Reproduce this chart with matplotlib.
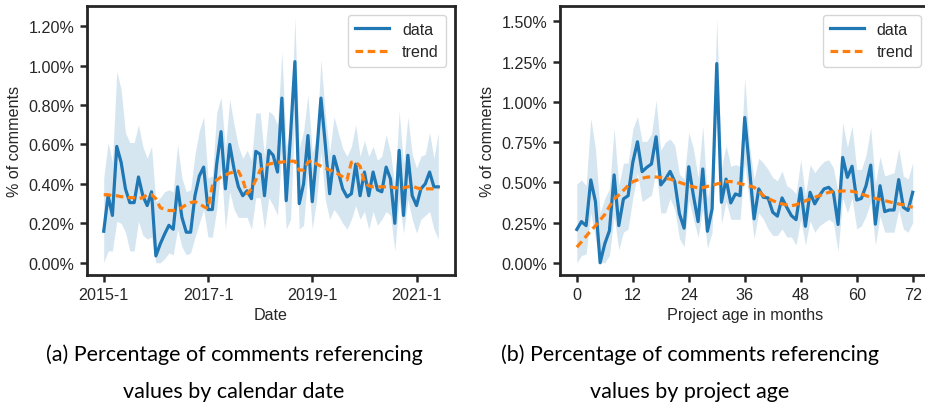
import numpy as np
import matplotlib
matplotlib.use("Agg")
import matplotlib.pyplot as plt
from matplotlib.ticker import PercentFormatter

# (a) monthly share of comments referencing values, 2015-1 .. 2021-6
date_data = [0.16, 0.34, 0.24, 0.59, 0.51, 0.375, 0.305, 0.305, 0.435, 0.34,
             0.29, 0.36, 0.035, 0.095, 0.145, 0.19, 0.17, 0.385, 0.23, 0.155,
             0.155, 0.34, 0.44, 0.485, 0.27, 0.27, 0.5, 0.665, 0.375, 0.6,
             0.475, 0.385, 0.34, 0.365, 0.325, 0.565, 0.55, 0.34, 0.57, 0.545,
             0.46, 0.835, 0.315, 0.65, 1.02, 0.3, 0.4, 0.645, 0.31, 0.55,
             0.835, 0.6, 0.35, 0.54, 0.46, 0.375, 0.334, 0.35, 0.5, 0.34,
             0.46, 0.34, 0.46, 0.37, 0.36, 0.485, 0.425, 0.2, 0.57, 0.24,
             0.545, 0.34, 0.29, 0.375, 0.4, 0.46, 0.385, 0.385]
date_trend = [0.345, 0.345, 0.34, 0.34, 0.335, 0.335, 0.33, 0.33, 0.325, 0.33,
              0.345, 0.345, 0.325, 0.28, 0.27, 0.265, 0.265, 0.27, 0.28, 0.295,
              0.305, 0.31, 0.3, 0.285, 0.275, 0.39, 0.42, 0.435, 0.445, 0.455,
              0.46, 0.465, 0.42, 0.35, 0.375, 0.42, 0.47, 0.49, 0.5, 0.505,
              0.51, 0.51, 0.515, 0.515, 0.515, 0.47, 0.47, 0.51, 0.52, 0.5,
              0.49, 0.48, 0.47, 0.46, 0.45, 0.435, 0.42, 0.51, 0.51, 0.49,
              0.41, 0.39, 0.385, 0.385, 0.385, 0.385, 0.385, 0.38, 0.38, 0.38,
              0.385, 0.39, 0.38, 0.375, 0.375, 0.375, 0.375, 0.375]
date_low = [0.0, 0.06, 0.06, 0.21, 0.2, 0.155, 0.06, 0.06, 0.21, 0.14,
            0.12, 0.13, 0.0, 0.0, 0.02, 0.05, 0.04, 0.17, 0.08, 0.04,
            0.05, 0.13, 0.2, 0.27, 0.13, 0.13, 0.27, 0.49, 0.17, 0.36,
            0.27, 0.23, 0.23, 0.23, 0.17, 0.33, 0.33, 0.17, 0.33, 0.29,
            0.24, 0.57, 0.17, 0.22, 0.77, 0.17, 0.19, 0.46, 0.17, 0.32,
            0.56, 0.32, 0.22, 0.27, 0.24, 0.2, 0.17, 0.22, 0.29, 0.22,
            0.26, 0.17, 0.26, 0.19, 0.22, 0.26, 0.24, 0.06, 0.32, 0.15,
            0.32, 0.22, 0.15, 0.22, 0.24, 0.26, 0.17, 0.12]
date_high = [0.43, 0.61, 0.51, 0.97, 0.88, 0.66, 0.61, 0.61, 0.7, 0.59,
             0.53, 0.59, 0.31, 0.33, 0.36, 0.37, 0.36, 0.6, 0.43, 0.36,
             0.37, 0.55, 0.67, 0.74, 0.43, 0.44, 0.76, 0.84, 0.58, 0.83,
             0.7, 0.59, 0.53, 0.57, 0.52, 0.76, 0.76, 0.54, 0.77, 0.75,
             0.7, 1.07, 0.59, 0.66, 1.24, 0.58, 0.67, 0.85, 0.56, 0.63,
             1.03, 0.75, 0.56, 0.74, 0.66, 0.58, 0.54, 0.59, 0.7, 0.54,
             0.62, 0.54, 0.59, 0.52, 0.54, 0.65, 0.56, 0.39, 0.77, 0.5,
             0.74, 0.55, 0.48, 0.54, 0.55, 0.66, 0.53, 0.66]
date_ticks = [0, 24, 48, 72]
date_labels = ["2015-1", "2017-1", "2019-1", "2021-1"]

# (b) share by project age, months 0 .. 72
age_data = [0.207, 0.256, 0.231, 0.515, 0.38, 0.0, 0.118, 0.2, 0.546, 0.231,
            0.397, 0.417, 0.624, 0.752, 0.566, 0.593, 0.614, 0.783, 0.484, 0.52,
            0.568, 0.504, 0.304, 0.215, 0.597, 0.417, 0.256, 0.583, 0.196, 0.335,
            1.238, 0.376, 0.52, 0.372, 0.428, 0.417, 0.903, 0.59, 0.273, 0.459,
            0.407, 0.403, 0.314, 0.29, 0.403, 0.345, 0.293, 0.268, 0.463, 0.227,
            0.438, 0.366, 0.417, 0.459, 0.469, 0.438, 0.238, 0.655, 0.531, 0.6,
            0.39, 0.4, 0.479, 0.607, 0.24, 0.479, 0.318, 0.328, 0.328, 0.517,
            0.345, 0.325, 0.438]
age_trend = [0.097, 0.13, 0.165, 0.2, 0.23, 0.265, 0.3, 0.35, 0.397, 0.42,
             0.45, 0.48, 0.504, 0.515, 0.525, 0.532, 0.535, 0.533, 0.53, 0.525,
             0.52, 0.51, 0.5, 0.49, 0.479, 0.472, 0.465, 0.467, 0.475, 0.48,
             0.49, 0.495, 0.504, 0.505, 0.5, 0.492, 0.484, 0.478, 0.469, 0.445,
             0.417, 0.4, 0.386, 0.375, 0.366, 0.36, 0.355, 0.36, 0.376, 0.385,
             0.397, 0.407, 0.417, 0.428, 0.438, 0.442, 0.444, 0.446, 0.448, 0.444,
             0.438, 0.428, 0.417, 0.408, 0.4, 0.393, 0.386, 0.379, 0.372, 0.366,
             0.36, 0.352, 0.345]
age_low = [0.0, 0.045, 0.055, 0.31, 0.15, 0.0, 0.0, 0.045, 0.29, 0.08,
           0.19, 0.21, 0.4, 0.56, 0.38, 0.4, 0.42, 0.58, 0.31, 0.31,
           0.4, 0.33, 0.15, 0.1, 0.39, 0.27, 0.16, 0.33, 0.09, 0.19,
           1.0, 0.24, 0.38, 0.27, 0.27, 0.27, 0.62, 0.38, 0.15, 0.31,
           0.27, 0.21, 0.17, 0.17, 0.21, 0.16, 0.16, 0.11, 0.27, 0.11,
           0.26, 0.19, 0.23, 0.25, 0.27, 0.25, 0.07, 0.4, 0.31, 0.4,
           0.21, 0.23, 0.29, 0.38, 0.11, 0.29, 0.19, 0.19, 0.19, 0.33,
           0.21, 0.19, 0.25]
age_high = [0.49, 0.515, 0.48, 0.9, 0.71, 0.31, 0.4, 0.46, 0.835, 0.48,
            0.62, 0.62, 0.83, 0.91, 0.755, 0.755, 0.8, 1.01, 0.7, 0.75,
            0.77, 0.73, 0.55, 0.52, 0.81, 0.71, 0.53, 0.85, 0.4, 0.56,
            1.52, 0.59, 0.73, 0.6, 0.61, 0.6, 1.15, 0.73, 0.52, 0.65,
            0.62, 0.58, 0.53, 0.51, 0.57, 0.48, 0.46, 0.43, 0.64, 0.42,
            0.61, 0.56, 0.6, 0.63, 0.64, 0.59, 0.44, 0.87, 0.72, 0.85,
            0.58, 0.58, 0.67, 0.84, 0.49, 0.66, 0.54, 0.55, 0.56, 0.71,
            0.54, 0.52, 0.62]
age_ticks = [0, 12, 24, 36, 48, 60, 72]

BLUE = "#1f77b4"
ORANGE = "#ff7f0e"
TXT = "#262626"
FS = 11.6

plt.rcParams["font.family"] = ["Liberation Sans", "DejaVu Sans"]
plt.rcParams["font.size"] = FS
plt.rcParams["text.color"] = TXT
plt.rcParams["axes.labelcolor"] = TXT
plt.rcParams["xtick.color"] = TXT
plt.rcParams["ytick.color"] = TXT


def panel(ax, y, trend, low, high):
    x = np.arange(len(y))
    ax.fill_between(x, low, high, color=BLUE, alpha=0.18, linewidth=0)
    ax.plot(x, y, color=BLUE, lw=2.3, label="data")
    ax.plot(x, trend, color=ORANGE, lw=2.3, ls=(0, (2.4, 1.4)), label="trend")
    ax.yaxis.set_major_formatter(PercentFormatter(decimals=2))
    for s in ax.spines.values():
        s.set_linewidth(2.0)
        s.set_color(TXT)
    ax.tick_params(width=1.8, length=5, labelsize=FS, pad=4)
    ax.set_ylabel("% of comments", fontsize=FS, labelpad=5)
    leg = ax.legend(loc="upper right", fontsize=FS, handlelength=2.1,
                    borderpad=0.45, labelspacing=0.45, framealpha=0.8,
                    borderaxespad=0.55)
    leg.get_frame().set_edgecolor("#cccccc")


fig = plt.figure(figsize=(9.25, 4.1), dpi=100)

ax1 = fig.add_axes([87 / 925, 134 / 410, 368 / 925, 269 / 410])
panel(ax1, date_data, date_trend, date_low, date_high)
ax1.set_yticks([0, 0.2, 0.4, 0.6, 0.8, 1.0, 1.2])
ax1.set_xticks(date_ticks)
ax1.set_xticklabels(date_labels)
ax1.set_xlabel("Date", fontsize=FS, labelpad=3)

ax2 = fig.add_axes([560 / 925, 134 / 410, 369.5 / 925, 269 / 410])
panel(ax2, age_data, age_trend, age_low, age_high)
ax2.set_yticks([0, 0.25, 0.5, 0.75, 1.0, 1.25, 1.5])
ax2.set_xticks(age_ticks)
ax2.set_xlabel("Project age in months", fontsize=FS, labelpad=3)

cap = dict(ha="center", va="center", fontsize=15.5, family=["Lato", "DejaVu Sans"],
           color="black")
fig.text(234 / 925, 1 - 355 / 410, "(a) Percentage of comments referencing", **cap)
fig.text(234 / 925, 1 - 392 / 410, "values by calendar date", **cap)
fig.text(690 / 925, 1 - 355 / 410, "(b) Percentage of comments referencing", **cap)
fig.text(690 / 925, 1 - 392 / 410, "values by project age", **cap)

fig.savefig("out.png", dpi=100)
